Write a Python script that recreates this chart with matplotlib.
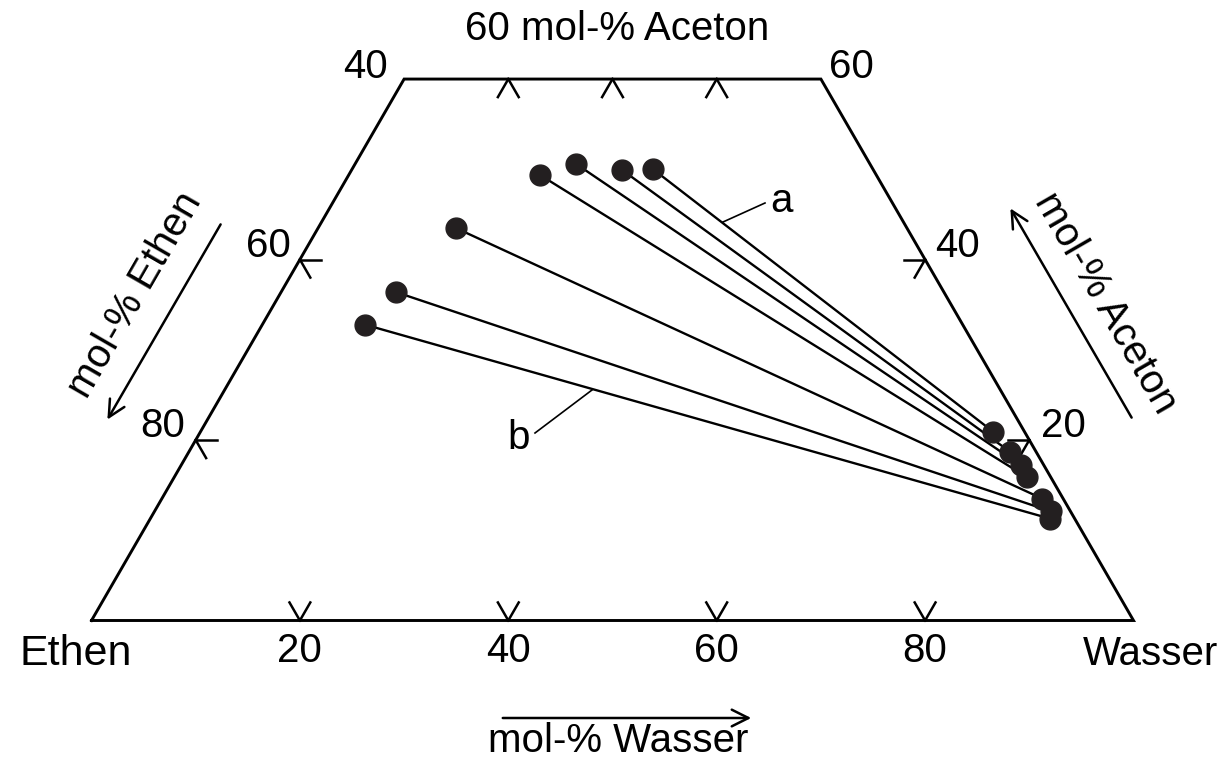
import numpy as np
import matplotlib
matplotlib.use("Agg")
import matplotlib.pyplot as plt

plt.rcParams['font.family'] = ['Liberation Sans', 'DejaVu Sans']

# Tie-line end points (mol-%): Ethen-rich phase (left) and Wasser-rich phase (right)
left_aceton = [49.4, 50.6, 49.9, 50.0, 43.5, 36.4, 32.8]
left_wasser = [18.3, 21.2, 26.0, 28.9, 13.2, 11.0, 9.8]
right_aceton = [15.9, 17.2, 18.7, 20.9, 13.5, 12.1, 11.3]
right_wasser = [81.8, 80.6, 78.8, 76.1, 84.5, 86.0, 86.3]

bottom_ticks = [20, 40, 60, 80]          # mol-% Wasser along bottom edge
top_ticks = [10, 20, 30]                 # Wasser positions of ticks on the 60 % Aceton edge
left_ticks = [20, 40]                    # Aceton positions on the left edge
left_tick_labels = ["80", "60"]          # mol-% Ethen
right_ticks = [20, 40]                   # Aceton positions on the right edge
right_tick_labels = ["20", "40"]
a_max = 60                               # cut of the diagram at 60 mol-% Aceton

S3 = np.sqrt(3) / 2


def tern(a, w):
    a = np.asarray(a, float) / 100.0
    w = np.asarray(w, float) / 100.0
    return w + a / 2.0, a * S3


W, Hpx = 1227, 758
x0, y0, L = 91.5, 620.5, 1042.0
fig = plt.figure(figsize=(W / 100, Hpx / 100), dpi=100)
ax = fig.add_axes([0, 0, 1, 1])
ax.set_xlim(-x0 / L, (W - x0) / L)
ax.set_ylim((y0 - Hpx) / L, y0 / L)
ax.axis('off')


def px(xp, yp):
    """pixel position (from top-left) -> data coords, for text placement"""
    return (xp - x0) / L, (y0 - yp) / L


k = 'black'
# outline (trapezoid)
ca = [0, 0, a_max, a_max, 0]
cw = [0, 100, 100 - a_max, 0, 0]
ox, oy = tern(ca, cw)
ax.plot(ox, oy, color=k, lw=2.1, solid_joinstyle='miter', zorder=3)

d = 2.0  # tick arm length in mol-%
lw_t = 1.8
for w in bottom_ticks:
    for (a1, w1) in [(d, w), (d, w - d)]:
        xs, ys = tern([0, a1], [w, w1])
        ax.plot(xs, ys, color=k, lw=lw_t)
for w in top_ticks:
    for (a1, w1) in [(a_max - d, w), (a_max - d, w + d)]:
        xs, ys = tern([a_max, a1], [w, w1])
        ax.plot(xs, ys, color=k, lw=lw_t)
for a in left_ticks:
    for (a1, w1) in [(a, d), (a - d, d)]:
        xs, ys = tern([a, a1], [0, w1])
        ax.plot(xs, ys, color=k, lw=lw_t)
for a in right_ticks:
    w = 100 - a
    for (a1, w1) in [(a, w - d), (a - d, w)]:
        xs, ys = tern([a, a1], [w, w1])
        ax.plot(xs, ys, color=k, lw=lw_t)

# tie lines
for la, lw_, ra, rw in zip(left_aceton, left_wasser, right_aceton, right_wasser):
    xs, ys = tern([la, ra], [lw_, rw])
    ax.plot(xs, ys, color=k, lw=1.7, zorder=4)
lx, ly = tern(left_aceton, left_wasser)
rx, ry = tern(right_aceton, right_wasser)
ax.plot(lx, ly, 'o', color='#231f20', ms=15, zorder=5)
ax.plot(rx, ry, 'o', color='#231f20', ms=15, zorder=5)

fs = 29
# bottom tick labels
for w in bottom_ticks:
    xx, _ = tern(0, w)
    ax.text(xx, px(0, 651)[1], str(w), ha='center', va='center', fontsize=fs)
ax.text(*px(76, 654), "Ethen", ha='center', va='center', fontsize=31)
ax.text(*px(1150, 654), "Wasser", ha='center', va='center', fontsize=fs)
ax.text(*px(618, 741), "mol-% Wasser", ha='center', va='center', fontsize=fs)
ax.annotate("", xy=px(754, 718), xytext=px(500, 718),
            arrowprops=dict(arrowstyle='->', color=k, lw=1.8, mutation_scale=30))

# top
ax.text(*px(617, 29), "60 mol-% Aceton", ha='center', va='center', fontsize=fs)
ax.text(*px(366, 67), "40", ha='center', va='center', fontsize=fs)
ax.text(*px(851, 67), "60", ha='center', va='center', fontsize=fs)

# left edge
ax.text(*px(268, 246), left_tick_labels[1], ha='center', va='center', fontsize=fs)
ax.text(*px(163, 426), left_tick_labels[0], ha='center', va='center', fontsize=fs)
ax.text(*px(135, 295), "mol-% Ethen", ha='center', va='center', fontsize=fs,
        rotation=60, rotation_mode='anchor')
ax.annotate("", xy=px(106, 422), xytext=px(222, 222),
            arrowprops=dict(arrowstyle='->', color=k, lw=1.8, mutation_scale=30))

# right edge
ax.text(*px(957, 246), right_tick_labels[1], ha='center', va='center', fontsize=fs)
ax.text(*px(1063, 426), right_tick_labels[0], ha='center', va='center', fontsize=fs)
ax.text(*px(1106, 303), "mol-% Aceton", ha='center', va='center', fontsize=fs,
        rotation=-60, rotation_mode='anchor')
ax.annotate("", xy=px(1009, 206), xytext=px(1133, 420),
            arrowprops=dict(arrowstyle='->', color=k, lw=1.8, mutation_scale=30))

# labels a / b
ax.plot(*zip(px(723, 222), px(765, 203)), color=k, lw=1.2)
ax.text(*px(782, 201), "a", ha='center', va='center', fontsize=fs)
ax.plot(*zip(px(535, 433), px(592, 390)), color=k, lw=1.2)
ax.text(*px(519, 438), "b", ha='center', va='center', fontsize=fs)

fig.savefig("out.png", dpi=100)
